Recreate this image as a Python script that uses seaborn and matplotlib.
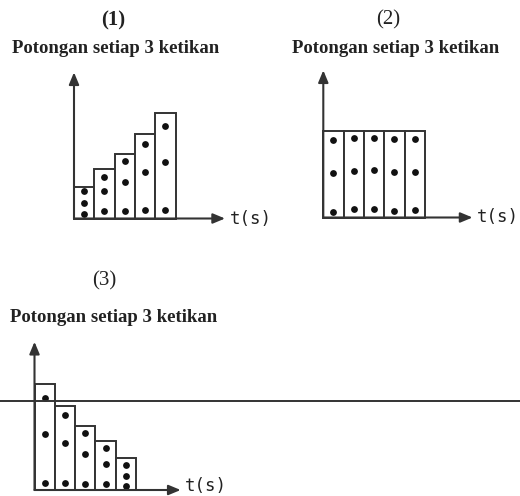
import pandas as pd
import matplotlib.pyplot as plt
import seaborn as sns

# ticker tape strips, cut every 3 ticks (1 unit = width of one strip)
strips = [1, 2, 3, 4, 5]
heights_1 = [1.55, 2.42, 3.2, 4.16, 5.22]
heights_2 = [4.25, 4.25, 4.25, 4.25, 4.25]
heights_3 = [5.22, 4.14, 3.15, 2.41, 1.56]

# dot positions along each strip (bottom, middle, top)
dots_1 = [[0.2, 0.74, 1.36], [0.36, 1.34, 2.05], [0.36, 1.79, 2.84],
          [0.41, 2.3, 3.69], [0.41, 2.77, 4.55]]
dots_2 = [[0.28, 2.17, 3.81], [0.41, 2.28, 3.92], [0.41, 2.33, 3.92],
          [0.33, 2.25, 3.86], [0.36, 2.22, 3.86]]
dots_3 = [[0.33, 2.76, 4.52], [0.33, 2.3, 3.69], [0.28, 1.77, 2.82],
          [0.28, 1.28, 2.05], [0.21, 0.7, 1.23]]

panel_titles = ["(1)", "(2)", "(3)"]
subtitle = "Potongan setiap 3 ketikan"
x_label = "t(s)"
cut_line_3 = 4.4  # the stray horizontal line crossing panel 3

sns.set_theme(style="white")

W, H = 520, 496
S = 20.3  # pixels per unit
LINE = "#333333"
fig = plt.figure(figsize=(W / 100, H / 100), dpi=100)


def make_panel(rect, origin):
    #rect = (left, top, right, bottom) in pixels, origin = pixel of the axes corner
    L, T, R, B = rect
    ox, oy = origin
    ax = fig.add_axes([L / W, 1 - B / H, (R - L) / W, (B - T) / H])
    xlim = (-0.5 - (ox - L) / S, -0.5 + (R - ox) / S)
    ylim = (-(B - oy) / S, (oy - T) / S)
    return ax, xlim, ylim


def draw_tape(ax, xlim, ylim, heights, dots, x_tip, y_tip, label_dy=0.0):
    bars = pd.DataFrame({"strip": strips, "length": heights})
    sns.barplot(data=bars, x="strip", y="length", width=1, color="white",
                edgecolor=LINE, linewidth=1.4, ax=ax, zorder=2)

    rows = []
    for i, d in enumerate(dots):
        for y in d:
            rows.append({"pos": i, "y": y})
    sns.scatterplot(data=pd.DataFrame(rows), x="pos", y="y", s=24,
                    color="#111111", linewidth=0, ax=ax, zorder=3)

    #axis arrows
    arrow = dict(arrowstyle="-|>,head_length=0.6,head_width=0.25", color=LINE,
                 lw=1.5, shrinkA=0, shrinkB=0)
    ax.annotate("", xy=(-0.5, y_tip), xytext=(-0.5, 0), arrowprops=arrow,
                annotation_clip=False, zorder=4)
    ax.annotate("", xy=(x_tip, 0), xytext=(-0.5, 0), arrowprops=arrow,
                annotation_clip=False, zorder=4)
    ax.text(x_tip + 0.22, label_dy, x_label, family="DejaVu Sans Mono",
            fontsize=12.5, color="#222222", ha="left", va="center")

    ax.set_xlim(xlim)
    ax.set_ylim(ylim)
    ax.set_axis_off()


ax1, xl1, yl1 = make_panel((40, 60, 262, 240), (74, 218.5))
draw_tape(ax1, xl1, yl1, heights_1, dots_1, 6.94, 7.2)

ax2, xl2, yl2 = make_panel((290, 60, 520, 240), (323.3, 217.5))
draw_tape(ax2, xl2, yl2, heights_2, dots_2, 6.85, 7.25)

ax3, xl3, yl3 = make_panel((0, 330, 520, 496), (34.5, 490))
ax3.axhline(cut_line_3, color=LINE, lw=1.4, zorder=5)
draw_tape(ax3, xl3, yl3, heights_3, dots_3, 6.7, 7.3, label_dy=0.2)

#panel titles
serif = "Liberation Serif"
fig.text(113 / W, 1 - 20 / H, panel_titles[0], family=serif, fontsize=15,
         fontweight="bold", ha="center", va="center", color="#222222")
fig.text(388.5 / W, 1 - 20 / H, panel_titles[1], family=serif, fontsize=15,
         ha="center", va="center", color="#222222")
fig.text(104 / W, 1 - 281 / H, panel_titles[2], family=serif, fontsize=15,
         ha="center", va="center", color="#222222")

for cx, base in [(116, 53.3), (396, 53), (113.3, 322)]:
    fig.text(cx / W, 1 - base / H, subtitle, family=serif, fontsize=13.5,
             fontweight="bold", ha="center", va="baseline", color="#222222")

fig.savefig("out.png", dpi=100)
